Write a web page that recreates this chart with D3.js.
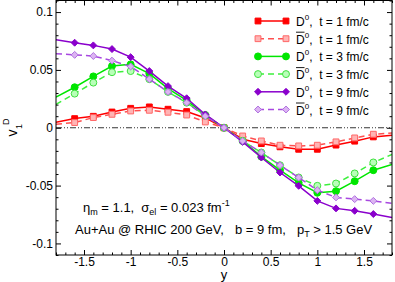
<!DOCTYPE html>
<html>
<head>
<meta charset="utf-8">
<script src="https://cdn.jsdelivr.net/npm/d3@7"></script>
<style>
  body { margin: 0; background: #fff; }
  svg { font-family: "Liberation Sans", Arial, sans-serif; }
</style>
</head>
<body>
<svg class="chartContainer" width="395" height="282"></svg>
<script>
// rapidity points
var ys = [-1.8, -1.6, -1.4, -1.2, -1.0, -0.8, -0.6, -0.4, -0.2, 0, 0.2, 0.4, 0.6, 0.8, 1.0, 1.2, 1.4, 1.6, 1.8];

// v1 of D0 and D0bar
var d0t1 = [0.0047, 0.0079, 0.0099, 0.0136, 0.0168, 0.018, 0.016, 0.014, 0.0085, 0, -0.0099, -0.0137, -0.0165, -0.0186, -0.0186, -0.015, -0.0116, -0.0079, -0.0065];
var d0bart1 = [0.003, 0.0045, 0.0088, 0.0116, 0.0145, 0.0151, 0.0134, 0.011, 0.005, 0, -0.0071, -0.0114, -0.0151, -0.0157, -0.0151, -0.0122, -0.0088, -0.0056, -0.0045];
var d0t3 = [0.0266, 0.035, 0.0444, 0.0533, 0.0548, 0.0468, 0.0338, 0.0237, 0.011, 0, -0.0114, -0.025, -0.0367, -0.0476, -0.0562, -0.0548, -0.0462, -0.0367, -0.0318];
var d0bart3 = [0.0203, 0.0295, 0.039, 0.048, 0.049, 0.042, 0.031, 0.0217, 0.0105, 0, -0.0114, -0.0214, -0.0324, -0.043, -0.0502, -0.0482, -0.0395, -0.030, -0.0231];
var d0t9 = [0.076, 0.0735, 0.0712, 0.068, 0.061, 0.049, 0.036, 0.0255, 0.0115, 0, -0.0122, -0.0257, -0.0387, -0.0502, -0.0632, -0.0697, -0.0718, -0.0746, -0.0775];
var d0bart9 = [0.064, 0.063, 0.062, 0.058, 0.053, 0.042, 0.031, 0.0217, 0.01, 0, -0.0114, -0.0214, -0.0324, -0.043, -0.054, -0.0602, -0.0617, -0.0632, -0.0654];

var xTicks = [-1.5, -1, -0.5, 0, 0.5, 1, 1.5];
var yTicks = [-0.1, -0.05, 0, 0.05, 0.1];
var legendTimes = ["1", "1", "3", "3", "9", "9"];

var svg = d3.select(".chartContainer");
var pLeft = 56, pRight = 392, pTop = 0.5, pBottom = 255;

var x = d3.scaleLinear().domain([-1.8, 1.8]).range([pLeft, pRight]);
var y = d3.scaleLinear().domain([-0.11, 0.11]).range([pBottom, pTop]);

svg.append("defs").append("clipPath").attr("id", "plotClip")
  .append("rect").attr("x", pLeft).attr("y", pTop)
  .attr("width", pRight - pLeft).attr("height", pBottom - pTop);

// zero line
svg.append("line")
  .attr("x1", pLeft).attr("x2", pRight)
  .attr("y1", y(0)).attr("y2", y(0))
  .style("stroke", "black").style("stroke-width", 0.8)
  .style("stroke-dasharray", "6,2,1,2,1,2");

var series = [
  { v: d0t1, color: "#ff0000", dash: null, shape: "square", fill: "#ff0000", stroke: "#ff0000" },
  { v: d0bart1, color: "#ff5050", dash: "6,4", shape: "square", fill: "#ffb4b4", stroke: "#ff6868" },
  { v: d0t3, color: "#00e600", dash: null, shape: "circle", fill: "#00e600", stroke: "#00e600" },
  { v: d0bart3, color: "#3cf03c", dash: "6,4", shape: "circle", fill: "#b8ffb8", stroke: "#40e040" },
  { v: d0t9, color: "#8a00cc", dash: null, shape: "diamond", fill: "#8a00cc", stroke: "#8a00cc" },
  { v: d0bart9, color: "#a848e0", dash: "6,4", shape: "diamond", fill: "#dcb4f2", stroke: "#b070e0" }
];

// square-shaped diamond (rotated square)
var squareDiamond = {
  draw: function (ctx, size) {
    var r = Math.sqrt(size / 2);
    ctx.moveTo(0, -r); ctx.lineTo(r, 0); ctx.lineTo(0, r); ctx.lineTo(-r, 0); ctx.closePath();
  }
};

var symbols = {
  square: d3.symbol().type(d3.symbolSquare).size(34),
  circle: d3.symbol().type(d3.symbolCircle).size(38),
  diamond: d3.symbol().type(squareDiamond).size(24)
};

var line = d3.line().x(function (d) { return x(d[0]); }).y(function (d) { return y(d[1]); });
var plot = svg.append("g").attr("clip-path", "url(#plotClip)");

series.forEach(function (s) {
  var pts = ys.map(function (yv, i) { return [yv, s.v[i]]; });
  plot.append("path")
    .attr("d", line(pts))
    .style("fill", "none").style("stroke", s.color)
    .style("stroke-width", 1.5)
    .style("stroke-dasharray", s.dash);
  plot.selectAll(null)
    .data(pts.filter(function (d) { return Math.abs(d[0]) < 1.7; }))
    .enter().append("path")
    .attr("transform", function (d) { return "translate(" + x(d[0]) + "," + y(d[1]) + ")"; })
    .attr("d", symbols[s.shape])
    .style("fill", s.fill).style("stroke", s.stroke).style("stroke-width", 1);
});

// frame
svg.append("rect")
  .attr("x", pLeft).attr("y", pTop)
  .attr("width", pRight - pLeft).attr("height", pBottom - pTop)
  .style("fill", "none").style("stroke", "black").style("stroke-width", 1);

// ticks on all four sides, pointing inward
var xMinor = d3.range(-18, 19).map(function (i) { return i / 10; })
  .filter(function (v) { return Math.abs(v * 2 - Math.round(v * 2)) > 1e-6; });
var yMinor = d3.range(-11, 12).map(function (i) { return i / 100; })
  .filter(function (v) { return Math.abs(v * 20 - Math.round(v * 20)) > 1e-6; });

function drawAxis(axis, tr, labels) {
  var g = svg.append("g").attr("transform", tr).call(axis);
  g.select(".domain").remove();
  g.selectAll("line").style("stroke", "black");
  g.selectAll("text").style("font-size", "12px").style("fill", "black")
    .style("font-family", "'Liberation Sans', Arial, sans-serif");
  if (!labels) g.selectAll("text").remove();
  return g;
}
var fmt = function (d) { return String(d); };

drawAxis(d3.axisBottom(x).tickValues(xTicks).tickSize(-5).tickPadding(2).tickFormat(fmt), "translate(0," + pBottom + ")", true);
drawAxis(d3.axisBottom(x).tickValues(xMinor).tickSize(-2.5).tickFormat(""), "translate(0," + pBottom + ")", false);
drawAxis(d3.axisTop(x).tickValues(xTicks).tickSize(-5).tickFormat(""), "translate(0," + pTop + ")", false);
drawAxis(d3.axisTop(x).tickValues(xMinor).tickSize(-2.5).tickFormat(""), "translate(0," + pTop + ")", false);
drawAxis(d3.axisLeft(y).tickValues(yTicks).tickSize(-5).tickPadding(3).tickFormat(fmt), "translate(" + pLeft + ",0)", true);
drawAxis(d3.axisLeft(y).tickValues(yMinor).tickSize(-2.5).tickFormat(""), "translate(" + pLeft + ",0)", false);
drawAxis(d3.axisRight(y).tickValues(yTicks).tickSize(-5).tickFormat(""), "translate(" + pRight + ",0)", false);
drawAxis(d3.axisRight(y).tickValues(yMinor).tickSize(-2.5).tickFormat(""), "translate(" + pRight + ",0)", false);

// axis titles
svg.append("text").attr("x", x(0)).attr("y", 279)
  .attr("text-anchor", "middle").style("font-size", "13px").text("y");

var yl = svg.append("g").attr("transform", "translate(16,133) rotate(-90)");
yl.append("text").attr("x", -3.5).attr("y", 1).style("font-size", "14px").text("v");
yl.append("text").attr("x", 4).attr("y", 6).style("font-size", "9px").text("1");
yl.append("text").attr("x", 8).attr("y", -7).style("font-size", "9px").text("D");

// legend
series.forEach(function (s, i) {
  var ly = 21 + i * 17.7;
  svg.append("line")
    .attr("x1", 258).attr("x2", 286).attr("y1", ly).attr("y2", ly)
    .style("stroke", s.color).style("stroke-width", 1.5)
    .style("stroke-dasharray", s.dash);
  [258, 286].forEach(function (lx) {
    svg.append("path")
      .attr("transform", "translate(" + lx + "," + ly + ")")
      .attr("d", symbols[s.shape])
      .style("fill", s.fill).style("stroke", s.stroke);
  });
  var t = svg.append("text").attr("x", 296).attr("y", ly + 5).style("font-size", "12px");
  t.append("tspan").text("D");
  t.append("tspan").attr("dy", -6).style("font-size", "8px").text("0");
  t.append("tspan").attr("dy", 6).text(",\u00a0 t = " + legendTimes[i] + " fm/c");
  if (s.dash) {
    svg.append("line")
      .attr("x1", 296).attr("x2", 304.5).attr("y1", ly - 6.5).attr("y2", ly - 6.5)
      .style("stroke", "black").style("stroke-width", 0.9);
  }
});

// annotations
var a1 = svg.append("text").attr("x", 83).attr("y", 212).style("font-size", "13px");
a1.append("tspan").text("\u03b7");
a1.append("tspan").attr("dy", 3).style("font-size", "9px").text("m");
a1.append("tspan").attr("dy", -3).text(" = 1.1,");
a1.append("tspan").attr("dx", 7).text("\u03c3");
a1.append("tspan").attr("dy", 3).style("font-size", "9px").text("el");
a1.append("tspan").attr("dy", -3).text(" = 0.023 fm");
a1.append("tspan").attr("dy", -6).style("font-size", "9px").text("-1");

var a2 = svg.append("text").attr("x", 75).attr("y", 234).style("font-size", "13px");
a2.append("tspan").text("Au+Au @ RHIC 200 GeV,");
a2.append("tspan").attr("dx", 11).text("b = 9 fm,");
a2.append("tspan").attr("dx", 11).text("p");
a2.append("tspan").attr("dy", 3).style("font-size", "9px").text("T");
a2.append("tspan").attr("dy", -3).text(" > 1.5 GeV");
</script>
</body>
</html>
